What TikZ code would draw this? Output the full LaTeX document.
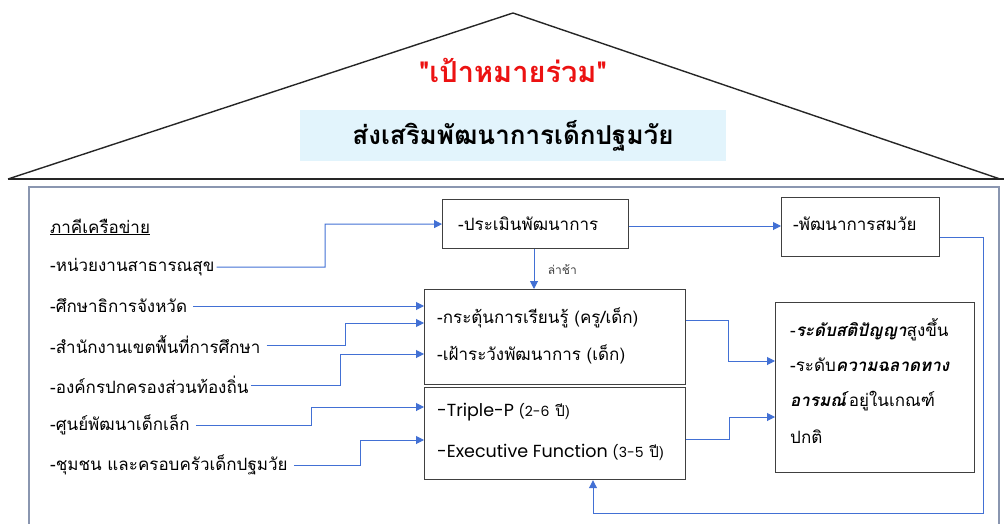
\documentclass[tikz,border=0pt]{standalone}
\usepackage{fontspec}
\setmainfont[Script=Thai]{Loma}
\newfontfamily\goalfont[Script=Thai]{Loma}
\newfontfamily\latinfont{Poppins}
\usetikzlibrary{arrows.meta,positioning}
\definecolor{linkblue}{RGB}{66,112,212}
\definecolor{headred}{RGB}{236,18,18}
\definecolor{paleblue}{RGB}{226,244,252}
\definecolor{framegray}{RGB}{138,150,176}
\definecolor{boxgray}{RGB}{64,64,64}

\begin{document}
\begin{tikzpicture}[x=1pt,y=-1pt,
    conn/.style={draw=linkblue, line width=1pt, -{Triangle[width=8pt,length=8pt]}},
    box/.style={draw=boxgray, line width=1.2pt, inner sep=0pt, anchor=north west},
    txt/.style={anchor=west, inner sep=0pt, font=\fontsize{17}{20}\selectfont}]
          \useasboundingbox (0,0) rectangle (1004,524);

          % roof
          \draw[line width=1.4pt, black!85] (8,179) -- (513,13) -- (1000,179);
          \draw[line width=2.2pt, black!85] (8,179) -- (1004,179);
          \node[font=\fontsize{29}{33}\goalfont\bfseries, text=headred] (goal) at (513,70) {"เป้าหมายร่วม"};
          \node[fill=paleblue, minimum width=426pt, minimum height=51pt, inner sep=0pt,
                font=\fontsize{26}{30}\selectfont\bfseries] (promo) at (513,136) {ส่งเสริมพัฒนาการเด็กปฐมวัย};

          % frame
          \draw[framegray, line width=1.6pt] (29,187) rectangle (999,530);

          % network partners
          \node[txt] (net) at (50,227) {\underline{ภาคีเครือข่าย}};
          \node[txt] (hw) at (50,267) {-หน่วยงานสาธารณสุข};
          \node[txt] (edu) at (50,306) {-ศึกษาธิการจังหวัด};
          \node[txt] (esa) at (50,345) {-สำนักงานเขตพื้นที่การศึกษา};
          \node[txt] (lao) at (50,385) {-องค์กรปกครองส่วนท้องถิ่น};
          \node[txt] (ecd) at (50,425) {-ศูนย์พัฒนาเด็กเล็ก};
          \node[txt] (comm) at (50,465) {-ชุมชน และครอบครัวเด็กปฐมวัย};

          % boxes
          \node[box, minimum width=186pt, minimum height=49pt] (assess) at (442,199) {};
          \node[txt] (assesst) at (458,224) {-ประเมินพัฒนาการ};
          \node[box, minimum width=158pt, minimum height=59pt] (normal) at (781,197) {};
          \node[txt] (normalt) at (793,224) {-พัฒนาการสมวัย};
          \node[box, minimum width=261pt, minimum height=95pt] (learn) at (424,289) {};
          \node[txt] (learna) at (437,318) {-กระตุ้นการเรียนรู้ (ครู/เด็ก)};
          \node[txt] (learnb) at (437,354) {-เฝ้าระวังพัฒนาการ (เด็ก)};
          \node[box, minimum width=261pt, minimum height=92pt] (prog) at (424,387) {};
          \node[txt] (proga) at (437,412) {{\latinfont\fontsize{17.5}{20}\selectfont -Triple-P \fontsize{14}{16}\selectfont(2-6} {\fontsize{15}{17}\selectfont ปี)}};
          \node[txt] (progb) at (437,452) {{\latinfont\fontsize{17.5}{20}\selectfont -Executive Function \fontsize{14}{16}\selectfont(3-5} {\fontsize{15}{17}\selectfont ปี)}};
          \node[box, minimum width=199pt, minimum height=170pt] (result) at (775,302) {};
          \node[txt] (resa) at (790,330) {-\textbf{\itshape ระดับสติปัญญา}สูงขึ้น};
          \node[txt] (resb) at (790,365) {-ระดับ\textbf{\itshape ความฉลาดทาง}};
          \node[txt] (resc) at (790,401) {\textbf{\itshape อารมณ์}อยู่ในเกณฑ์};
          \node[txt] (resd) at (790,437) {ปกติ};

          % connectors
          \draw[conn] ([xshift=2pt]hw.east) -| (325,224) -- (assess.west);
          \draw[conn] ([xshift=6pt]edu.east) -- (learn.west |- 0,306);
          \draw[conn] ([xshift=6pt]esa.east) -| (345,323) -- (learn.west |- 0,323);
          \draw[conn] ([xshift=2pt]lao.east) -| (340,354) -- (learn.west |- 0,354);
          \draw[conn] ([xshift=6pt]ecd.east) -| (311,407) -- (prog.west |- 0,407);
          \draw[conn] ([xshift=6pt]comm.east) -| (360,440) -- (prog.west |- 0,440);

          \draw[conn] (assess.south -| 534,0) -- (learn.north -| 534,0)
                node[midway, right=10pt, font=\fontsize{12}{14}\selectfont, text=black!75] (late) {ล่าช้า};
          \draw[conn] (assess.east |- 0,226) -- (normal.west |- 0,226);
          \draw[conn] (learn.east |- 0,320) -| (728,361) -- (result.west |- 0,361);
          \draw[conn] (prog.east |- 0,439) -| (729,417) -- (result.west |- 0,417);
          \draw[conn] (normal.east |- 0,237) -| (983,513) -| (prog.south -| 593,0);
\end{tikzpicture}
\end{document}
